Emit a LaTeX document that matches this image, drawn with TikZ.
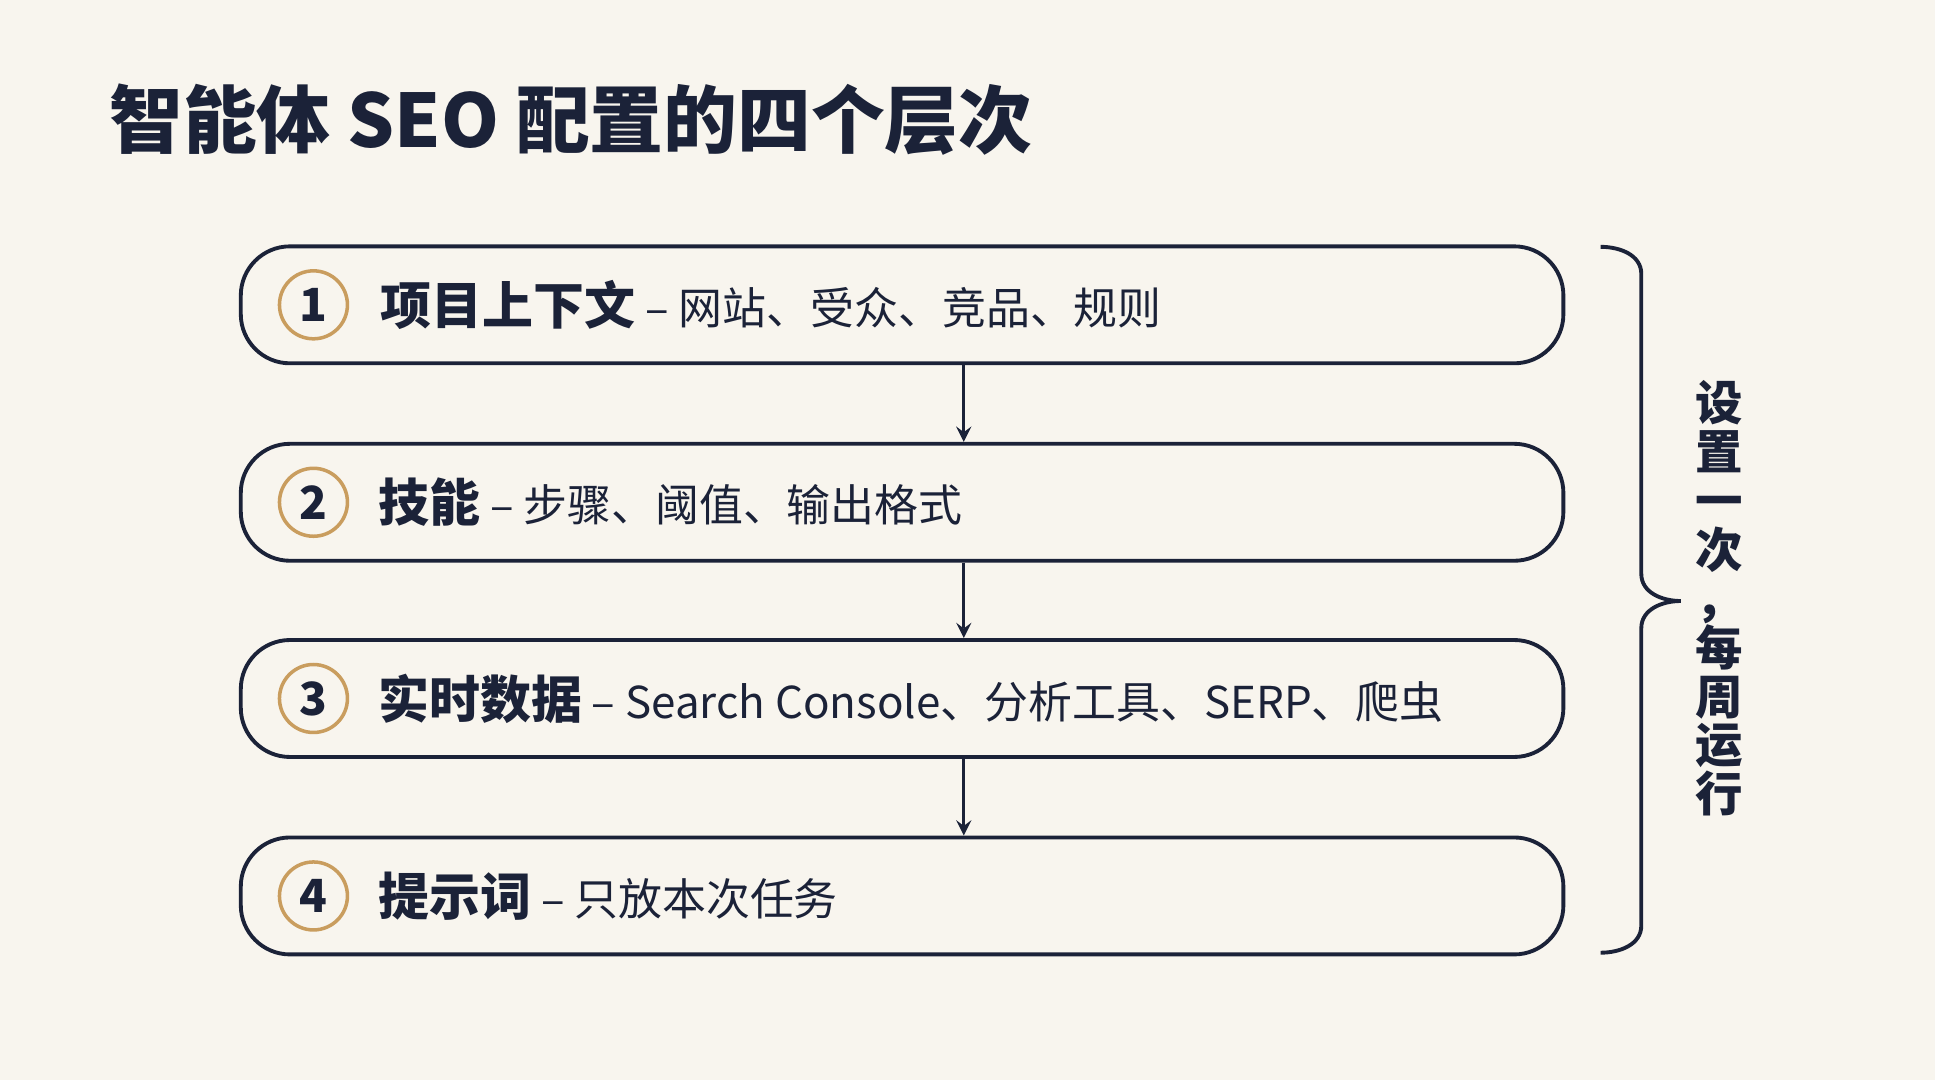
\documentclass[tikz,border=0pt]{standalone}
\usepackage{fontspec}
\setmainfont{Noto Sans CJK SC}
\usetikzlibrary{positioning}
\definecolor{paper}{HTML}{F8F5EE}
\definecolor{ink}{HTML}{1B2238}
\definecolor{gold}{HTML}{C99D5E}

\tikzset{
  layer/.style={draw=ink, line width=1.1pt, rounded corners=14pt, minimum width=13.23cm, minimum height=1.17cm},
  num/.style={circle, draw=gold, line width=1pt, minimum size=0.68cm, inner sep=0pt, text=ink, font=\fontsize{13}{13}\selectfont\bfseries},
  desc/.style={anchor=west, text=ink, inner sep=0pt, font=\fontsize{12.5}{13}\selectfont},
  flow/.style={->, >=stealth, line width=0.9pt, draw=ink}
}

\begin{document}
\begin{tikzpicture}[x=0.01234cm, y=-0.01234cm]

\fill[paper] (0,0) rectangle (1568,875);
\useasboundingbox (0,0) rectangle (1568,875);

\node [anchor=west, text=ink, inner sep=0pt, font=\fontsize{21}{22}\selectfont\bfseries] (title) at (88,97) {智能体 SEO 配置的四个层次};

% the four layers
\node [layer] (l1) at (731,247) {};
\node [layer] (l2) at (731,407) {};
\node [layer] (l3) at (731,566) {};
\node [layer] (l4) at (731,726) {};

\node [num] (n1) at (254,247) {1};
\node [num] (n2) at (254,407) {2};
\node [num] (n3) at (254,566) {3};
\node [num] (n4) at (254,726) {4};

\node [desc] (t1) at (308,247) {{\fontsize{14.5}{15}\selectfont\bfseries 项目上下文} – 网站、受众、竞品、规则};
\node [desc] (t2) at (306,407) {{\fontsize{14.5}{15}\selectfont\bfseries 技能} – 步骤、阈值、输出格式};
\node [desc] (t3) at (306,566) {{\fontsize{14.5}{15}\selectfont\bfseries 实时数据} – Search Console、分析工具、SERP、爬虫};
\node [desc] (t4) at (306,726) {{\fontsize{14.5}{15}\selectfont\bfseries 提示词} – 只放本次任务};

\draw [flow] (l1.south -| 781,0) -- (l2.north -| 781,0);
\draw [flow] (l2.south -| 781,0) -- (l3.north -| 781,0);
\draw [flow] (l3.south -| 781,0) -- (l4.north -| 781,0);

% brace
\coordinate (btop) at (1297,200);
\coordinate (btip) at (1362,487);
\coordinate (bbot) at (1297,772);
\draw [ink, line width=1.1pt] (btop) to[out=0,in=90] (1330,222) -- (1330,465)
  to[out=-90,in=180] (btip) to[out=180,in=90] (1330,509) -- (1330,750)
  to[out=-90,in=0] (bbot);

\node [text=ink, align=center, inner sep=0pt, font=\fontsize{13.5}{13.9}\selectfont\bfseries] (note) at (1393,485)
  {设\\置\\一\\次\\，\\每\\周\\运\\行};

\end{tikzpicture}
\end{document}
